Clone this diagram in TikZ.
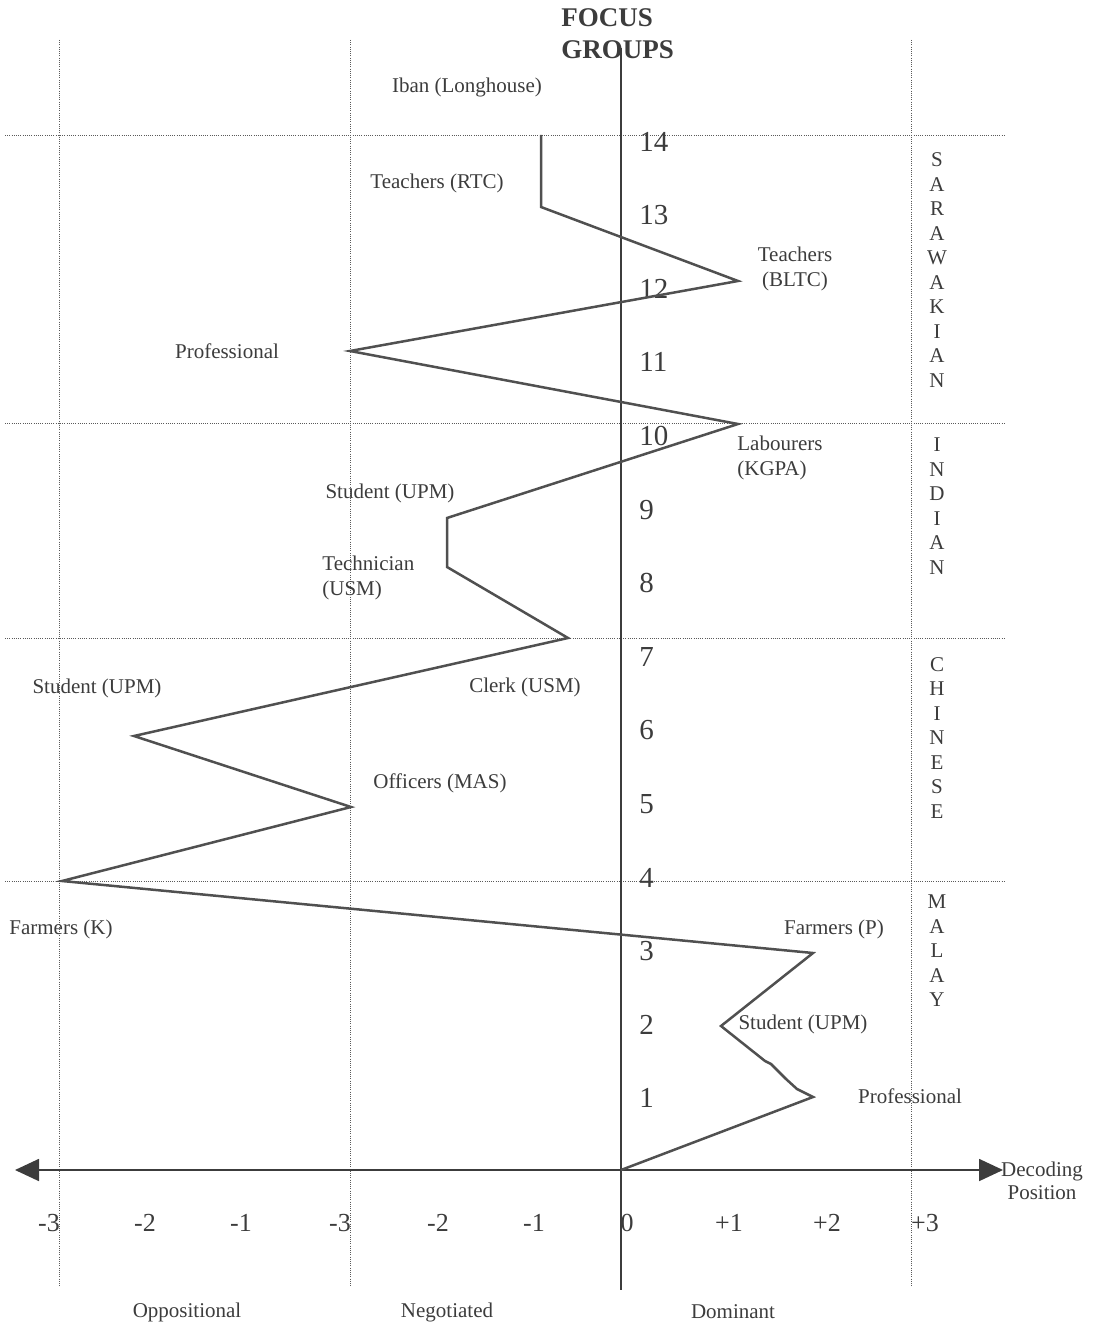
\documentclass[tikz,border=0pt]{standalone}
\usepackage{fontspec}
\setmainfont{Liberation Serif}
\usepackage{xcolor}
\usetikzlibrary{arrows.meta,positioning,calc}
\definecolor{ink}{HTML}{3C3C3C}
\definecolor{guidegray}{HTML}{5A5A5A}
\tikzset{%
   grp/.style={
      inner sep=0pt,
      text=ink,
      font=\fontsize{10.5}{12.5}\selectfont
   },
   lvl/.style={
      inner sep=0pt,
      anchor=west,
      text=ink,
      font=\fontsize{14.5}{16}\selectfont
   },
   ticklab/.style={
      inner sep=0pt,
      text=ink,
      font=\fontsize{13}{15}\selectfont
   },
   side/.style={
      inner sep=0pt,
      align=center,
      text=ink,
      font=\fontsize{10.5}{12.25}\selectfont
   },
   guide/.style={
      draw=guidegray,
      line width=0.45pt,
      dash pattern=on 0.5pt off 0.6pt
   },
   trace/.style={
      draw=ink!90,
      line width=1.25pt,
      line join=miter
   },
   axisline/.style={
      draw=ink,
      line width=0.9pt
   },
}

\begin{document}
\begin{tikzpicture}[x=0.5pt, y=-0.5pt]
      \useasboundingbox (0,0) rectangle (1094,1325);
      % guide lines
      \foreach \gy in {135,423,638,881}
         \draw[guide] (5,\gy) -- (1005,\gy);
      \foreach \gx in {59,350,911}
         \draw[guide] (\gx,40) -- (\gx,1287);
      % axes
      \coordinate (top) at (621,48);
      \coordinate (bot) at (621,1290);
      \draw[axisline] (top) -- (bot);
      \coordinate (left) at (15,1170);
      \coordinate (right) at (1003,1170);
      \draw[axisline, {Triangle[length=12,width=11]}-{Triangle[length=12,width=11]}] (left) -- (right);
      \node[grp, font=\fontsize{13.5}{16}\bfseries, align=left, anchor=west] (title) at (561,34) {FOCUS\\GROUPS};
      \node[grp, align=center, font=\fontsize{10.5}{11.5}\selectfont] (dec) at (1042,1181) {Decoding\\Position};
      % level numbers
      \foreach \k in {1,...,14}
         \node[lvl] (lv\k) at (639,{1172-73.6*\k}) {\k};
      % decoding ticks
      \foreach \lab/\tx [count=\i] in {-3/49,-2/145,-1/241,-3/340,-2/438,-1/534,0/627,+1/729,+2/827,+3/925}
         \node[ticklab] (tk\i) at (\tx,1223) {\lab};
      \node[grp] (opp) at (187,1312) {Oppositional};
      \node[grp] (neg) at (447,1312) {Negotiated};
      \node[grp] (dom) at (733,1312) {Dominant};
      % ethnic groups
      \node[side] (sarawak) at (937,270) {S\\A\\R\\A\\W\\A\\K\\I\\A\\N};
      \node[side] (indian) at (937,506) {I\\N\\D\\I\\A\\N};
      \node[side] (chinese) at (937,738) {C\\H\\I\\N\\E\\S\\E};
      \node[side] (malay) at (937,951) {M\\A\\L\\A\\Y};
      % focus group labels
      \node[grp] (iban) at (467,87) {Iban (Longhouse)};
      \node[grp] (rtc) at (437,183) {Teachers (RTC)};
      \node[grp, align=center] (bltc) at (795,269) {Teachers\\(BLTC)};
      \node[grp] (profA) at (227,351) {Professional};
      \node[grp, align=left, anchor=west] (kgpa) at (737,458) {Labourers\\(KGPA)};
      \node[grp] (upmA) at (390,493) {Student (UPM)};
      \node[grp, align=left, anchor=west] (tech) at (322,578) {Technician\\(USM)};
      \node[grp] (upmB) at (97,688) {Student (UPM)};
      \node[grp] (clerk) at (525,687) {Clerk (USM)};
      \node[grp] (mas) at (440,783) {Officers (MAS)};
      \node[grp] (farmK) at (61,929) {Farmers (K)};
      \node[grp] (farmP) at (834,929) {Farmers (P)};
      \node[grp] (upmC) at (803,1024) {Student (UPM)};
      \node[grp] (profB) at (910,1096) {Professional};
      % decoding trace
      \coordinate (p0) at (621,1170);
      \coordinate (p1) at (813,1097);
      \coordinate (p2) at (721,1026);
      \coordinate (p3) at (813,953);
      \coordinate (p4) at (62,881);
      \coordinate (p5) at (351,807);
      \coordinate (p6) at (134,736);
      \coordinate (p7) at (568,638);
      \coordinate (p8) at (447,567);
      \coordinate (p9) at (447,518);
      \coordinate (p10) at (738,424);
      \coordinate (p11) at (350,351);
      \coordinate (p12) at (738,281);
      \coordinate (p13) at (541,207);
      \coordinate (p14) at (541,135);
      \draw[trace] (p0) -- (p1) -- (797,1089) -- (786,1079) -- (771,1064) -- (765,1061) -- (p2)
         -- (p3) -- (p4) -- (p5) -- (p6) -- (p7) -- (p8) -- (p9) -- (p10) -- (p11)
         -- (p12) -- (p13) -- (p14);
   \end{tikzpicture}
\end{document}
